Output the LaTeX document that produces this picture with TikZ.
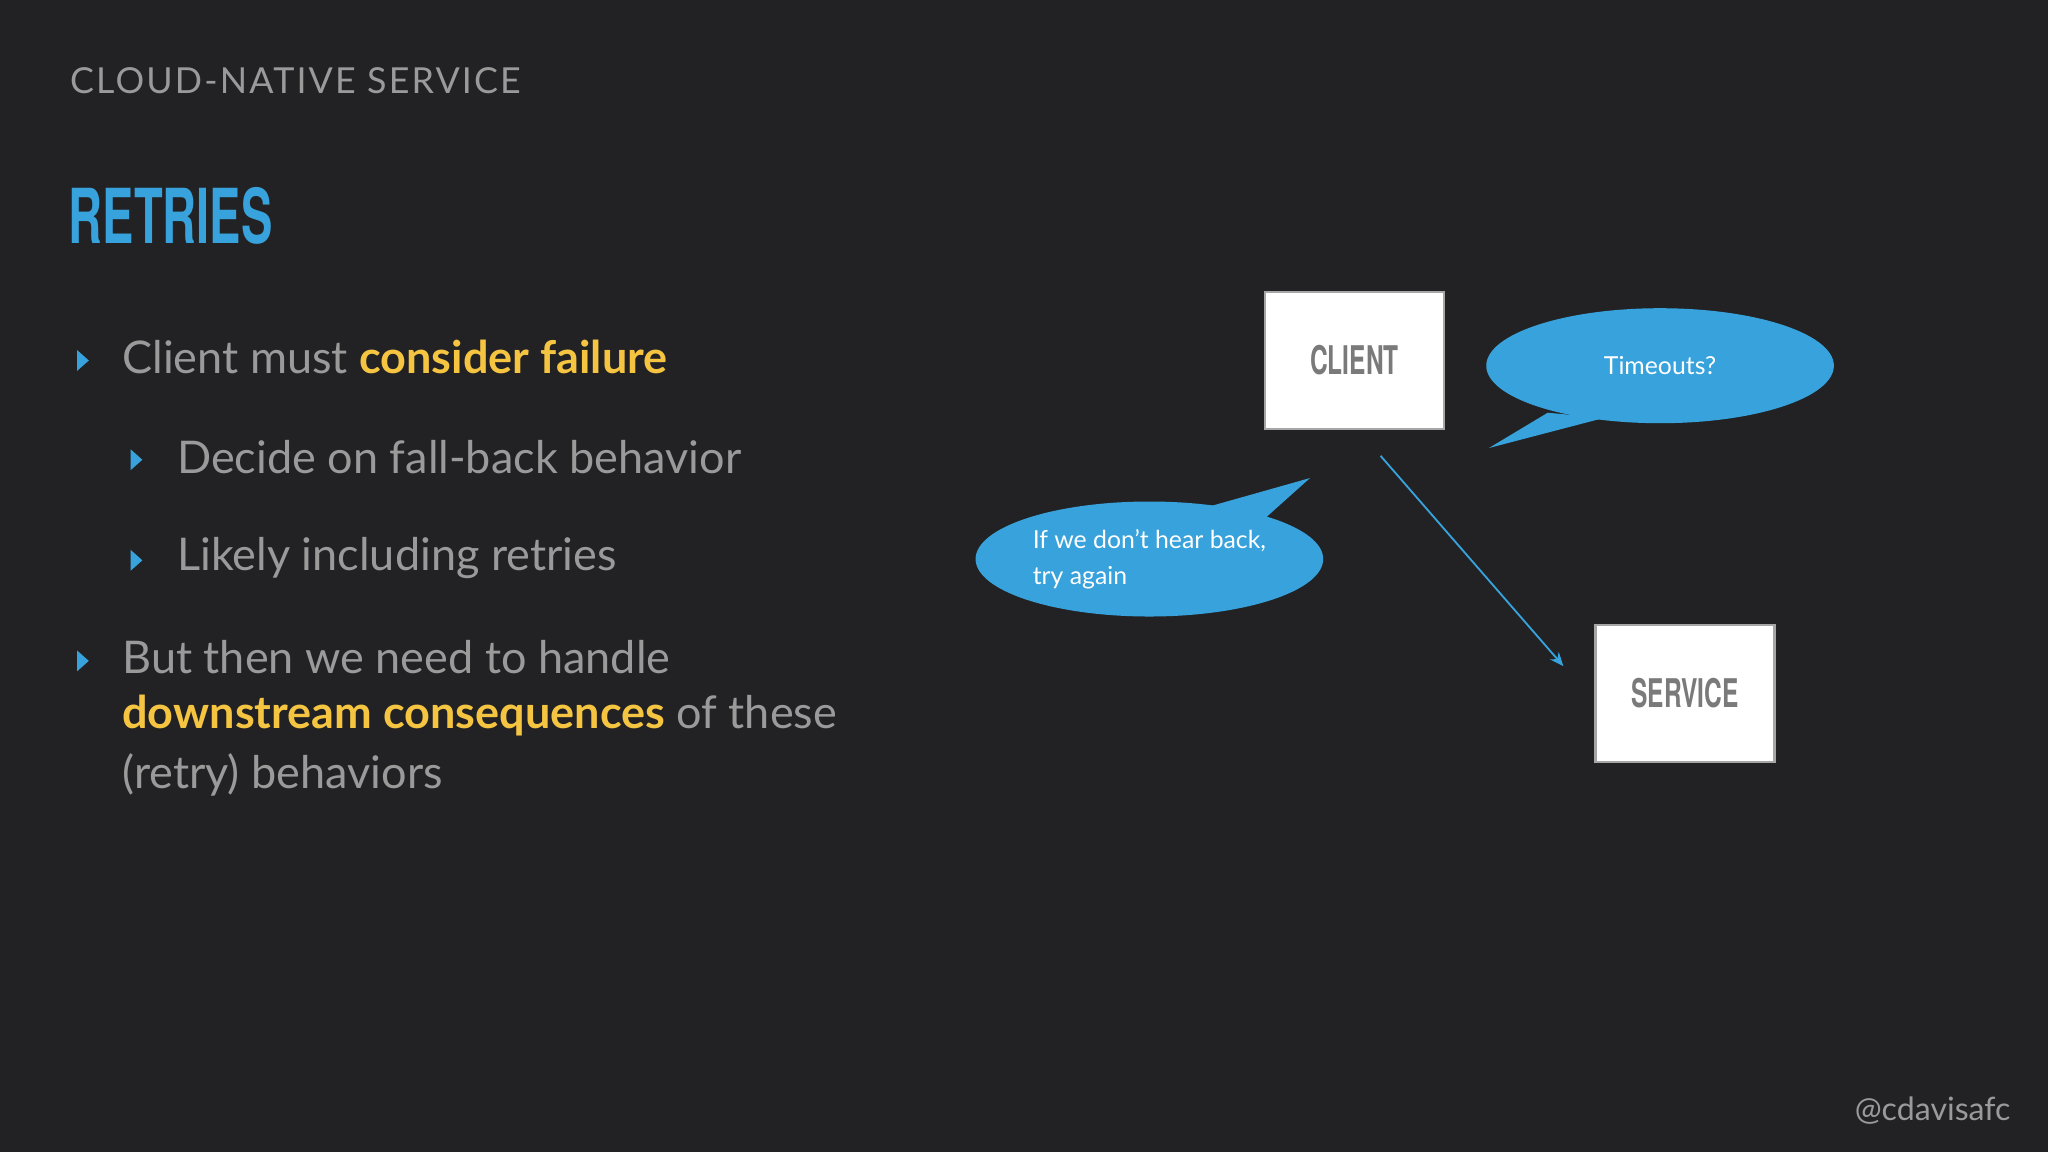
\documentclass[tikz,border=0pt]{standalone}
\usepackage{fontspec}
\setmainfont{Lato}
\newfontfamily\cond{TeX Gyre Heros}[FakeStretch=0.62]
\usetikzlibrary{shapes.geometric,arrows.meta}
\definecolor{bg}{HTML}{222224}
\definecolor{txt}{HTML}{9A9A9A}
\definecolor{hl}{HTML}{F5C542}
\definecolor{bl}{HTML}{37A2DB}
\definecolor{boxt}{HTML}{7A7A7A}
\begin{document}
\begin{tikzpicture}[x=0.01cm,y=-0.01cm,
  body/.style={anchor=west,text=txt,font=\fontsize{9.8pt}{13.2pt}\selectfont,inner sep=0},
  tri/.style={fill=bl,draw=none},
  box/.style={draw=gray!70,line width=0.5pt,fill=white,minimum width=1.37cm,minimum height=1.05cm,text=boxt,font=\cond\bfseries\fontsize{8.6pt}{10pt}\selectfont},
  bub/.style={ellipse,fill=bl,draw=none,inner sep=0,minimum width=2.66cm,minimum height=0.88cm,text=white,font=\fontsize{5.4pt}{7.8pt}\selectfont,align=left}]
\fill[bg] (0,0) rectangle (1568,882);
\useasboundingbox (0,0) rectangle (1568,882);
\node[anchor=west,text=txt,inner sep=0,font=\fontsize{7.8pt}{9pt}\selectfont\addfontfeature{LetterSpace=6}] (t) at (53,62) {CLOUD-NATIVE SERVICE};
\node[anchor=west,text=bl,inner sep=0,font=\cond\bfseries\fontsize{16.5pt}{18pt}\selectfont] (h) at (52,165) {RETRIES};
\foreach \x/\y in {63/276,104/352,104/429,63/506}
  \fill[tri] (\x-4,\y-8) -- (\x+5,\y) -- (\x-4,\y+8) -- cycle;
\node[body] (b1) at (93,273) {Client must \textcolor{hl}{\bfseries consider failure}};
\node[body] (b2) at (135,350) {Decide on fall-back behavior};
\node[body] (b3) at (135,427) {Likely including retries};
\node[body] (b4) at (93,503) {But then we need to handle};
\node[body] (b5) at (93,548) {\textcolor{hl}{\bfseries downstream consequences} of these};
\node[body] (b6) at (93,593) {(retry) behaviors};
\node[box] (client) at (1037,276) {CLIENT};
\node[box] (service) at (1290,531) {SERVICE};
\fill[bl] (1185,316) -- (1140,343) -- (1228,320) -- cycle;
\node[bub] (tmo) at (1271,280) {Timeouts?};
\fill[bl] (918,390) -- (1003,366) -- (965,400) -- cycle;
\node[bub] (retry) at (880,428) {If we don't hear back,\\try again};
\coordinate (a1) at (1057,349);
\coordinate (a2) at (1197,510);
\draw[bl,line width=0.4pt,-{Stealth[length=3pt,width=2.5pt]}] (a1) -- (a2);
\node[anchor=east,text=txt,inner sep=0,font=\fontsize{7pt}{8pt}\selectfont] (tag) at (1540,850) {@cdavisafc};
\end{tikzpicture}
\end{document}
